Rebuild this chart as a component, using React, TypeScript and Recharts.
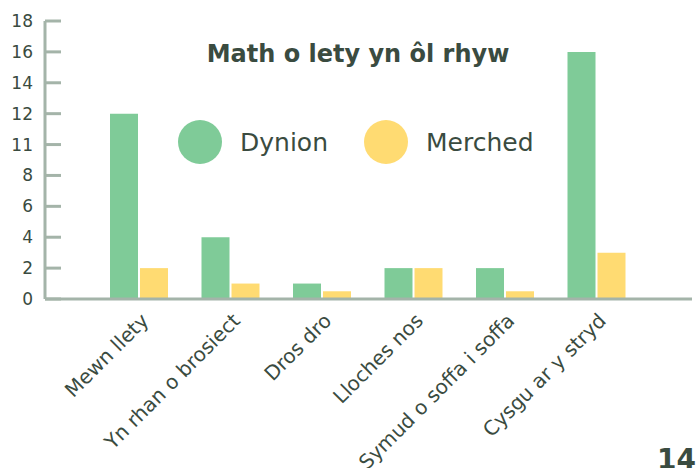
import { BarChart, Bar, XAxis, YAxis, Legend } from 'recharts';

const categories = [
  'Mewn llety',
  'Yn rhan o brosiect',
  'Dros dro',
  'Lloches nos',
  'Symud o soffa i soffa',
  'Cysgu ar y stryd',
];
const dynion = [12, 4, 1, 2, 2, 16];
const merched = [2, 1, 0.5, 2, 0.5, 3];
const yTicks = [0, 2, 4, 6, 8, 10, 12, 14, 16, 18];
// the original axis labels the 10 line as "11"
const yTickLabels = ['0', '2', '4', '6', '8', '11', '12', '14', '16', '18'];

const GREEN = '#7fcb98';
const YELLOW = '#ffdb72';
const TEXT = '#3a4b40';
const AXIS = '#a4b4a9';
const FONT = '"DejaVu Sans", sans-serif';

const data = categories.map((name, i) => ({ name, dynion: dynion[i], merched: merched[i] }));

function XTick({ x, y, payload }: any) {
  return (
    <g transform={`translate(${x + 11}, ${y + 15}) rotate(-45)`}>
      <text x={0} y={0} textAnchor="end" fill={TEXT} fontSize={20} fontFamily={FONT}>
        {payload.value}
      </text>
    </g>
  );
}

function LegendContent() {
  const items = [
    { label: 'Dynion', color: GREEN },
    { label: 'Merched', color: YELLOW },
  ];
  return (
    <div style={{ display: 'flex', alignItems: 'center', fontFamily: FONT }}>
      {items.map((it, i) => (
        <div key={it.label} style={{ display: 'flex', alignItems: 'center', marginLeft: i ? 36 : 0 }}>
          <div style={{ width: 44, height: 44, borderRadius: 22, background: it.color }} />
          <span style={{ marginLeft: 18, fontSize: 25, color: TEXT }}>{it.label}</span>
        </div>
      ))}
    </div>
  );
}

export default function App() {
  return (
    <div style={{ position: 'absolute', left: 0, top: 0, width: 699, height: 468, background: '#fff', overflow: 'hidden' }}>
      <BarChart
        width={699}
        height={468}
        data={data}
        margin={{ top: 21, right: 7, bottom: 0, left: 0 }}
        barSize={28}
        barGap={2}
      >
        <XAxis
          dataKey="name"
          interval={0}
          height={169}
          padding={{ left: 48, right: 50 }}
          axisLine={{ stroke: AXIS, strokeWidth: 3 }}
          tickLine={false}
          tick={<XTick />}
        />
        <YAxis
          width={45}
          domain={[0, 18]}
          ticks={yTicks}
          interval={0}
          tickSize={-16}
          tickMargin={28}
          tickFormatter={(v: number) => yTickLabels[yTicks.indexOf(v)]}
          axisLine={{ stroke: AXIS, strokeWidth: 3 }}
          tickLine={{ stroke: AXIS, strokeWidth: 3 }}
          tick={{ fill: TEXT, fontSize: 17, fontFamily: FONT }}
        />
        <Legend
          verticalAlign="middle"
          layout="horizontal"
          content={<LegendContent />}
          wrapperStyle={{ position: 'absolute', left: 178, top: 120, width: 'auto' }}
        />
        <Bar dataKey="dynion" name="Dynion" fill={GREEN} isAnimationActive={false} />
        <Bar dataKey="merched" name="Merched" fill={YELLOW} isAnimationActive={false} />
      </BarChart>
      <div
        style={{
          position: 'absolute',
          left: 0,
          width: 716,
          top: 40,
          textAlign: 'center',
          fontFamily: FONT,
          fontWeight: 700,
          fontSize: 24,
          color: TEXT,
        }}
      >
        Math o lety yn ôl rhyw
      </div>
      <div
        style={{
          position: 'absolute',
          left: 657,
          top: 443,
          fontFamily: FONT,
          fontWeight: 700,
          fontSize: 28,
          color: TEXT,
        }}
      >
        14
      </div>
    </div>
  );
}
